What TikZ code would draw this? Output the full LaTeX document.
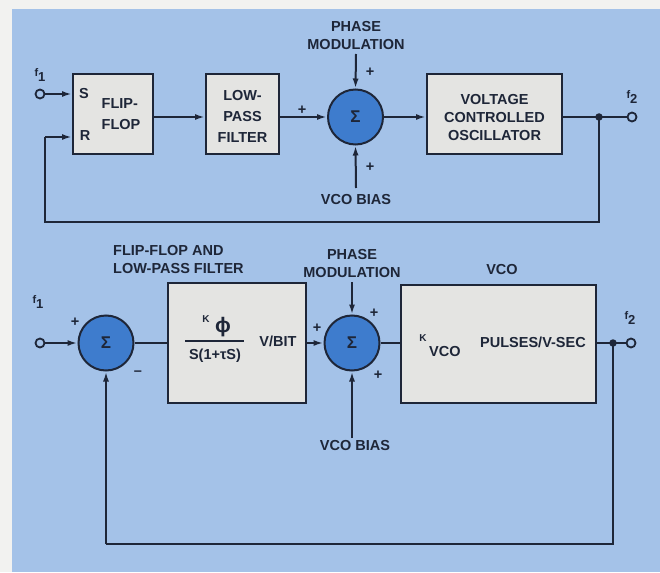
\documentclass[tikz,border=0pt]{standalone}
\usepackage{fontspec}
\setmainfont{Liberation Sans}
\usetikzlibrary{arrows.meta}
\definecolor{bg}{RGB}{164,194,232}
\definecolor{offwhite}{RGB}{242,242,240}
\definecolor{boxfill}{RGB}{228,228,226}
\definecolor{sumfill}{RGB}{62,124,205}
\definecolor{ink}{RGB}{30,38,56}
\begin{document}
\begin{tikzpicture}[x=1pt,y=-1pt,
  lbl/.style={font=\bfseries\fontsize{14.5}{18}\selectfont, text=ink, align=center, inner sep=0},
  small/.style={font=\bfseries\fontsize{11}{12}\selectfont, text=ink, inner sep=0},
  blk/.style={draw=ink, line width=2pt, fill=boxfill, inner sep=0},
  sumnode/.style={circle, draw=ink, line width=2pt, fill=sumfill, minimum size=55pt, inner sep=0, font=\bfseries\fontsize{17}{17}\selectfont, text=ink},
  term/.style={circle, draw=ink, line width=1.8pt, minimum size=9pt, inner sep=0},
  dotn/.style={circle, fill=ink, minimum size=7.5pt, inner sep=0},
  wire/.style={draw=ink, line width=2pt},
  arr/.style={wire, -{Latex[length=10pt,width=6pt]}},
]
\fill[offwhite] (0,0) rectangle (660,572);
\fill[bg] (12,9) rectangle (660,572);
\useasboundingbox (0,0) rectangle (660,572);

% ---------- top row ----------
\node[term] (in1) at (40,94) {};
\node[small] (f1a) at (40,75) {f\raisebox{-5pt}{\fontsize{13}{13}\selectfont 1}};
\node[blk, minimum width=80pt, minimum height=80pt] (ff) at (113,114) {};
\node[lbl] (ffS) at (84,94) {S};
\node[lbl] (ffR) at (85,136) {R};
\node[lbl, align=left] (fft) at (121,114) {FLIP-\\[3pt]FLOP};
\node[blk, minimum width=73pt, minimum height=80pt] (lpf) at (242.5,114) {};
\node[lbl] (lpft) at (242.5,116) {LOW-\\[3pt]PASS\\[3pt]FILTER};
\node[sumnode] (s1) at (355.5,117) {Σ};
\node[lbl] (pm1) at (356,36) {PHASE\\MODULATION};
\node[lbl] (vb1) at (356,200) {VCO BIAS};
\node[blk, minimum width=135pt, minimum height=80pt] (vco1) at (494.5,114) {};
\node[lbl] (vco1t) at (494.5,118) {VOLTAGE\\CONTROLLED\\OSCILLATOR};
\node[dotn] (j1) at (599,117) {};
\node[term] (out1) at (632,117) {};
\node[small] (f2a) at (632,97) {f\raisebox{-5pt}{\fontsize{13}{13}\selectfont 2}};
\node[lbl] (p1a) at (302,110) {+};
\node[lbl] (p1b) at (370,72) {+};
\node[lbl] (p1c) at (370,167) {+};
\coordinate (fb1a) at (599,222);
\coordinate (fb1b) at (45,222);
\coordinate (fb1c) at (45,137);

\draw[arr] (in1.east) -- (ff.west |- in1);
\draw[arr] (ff.east |- s1.west) -- (lpf.west |- s1.west);
\draw[arr] (lpf.east |- s1.west) -- (s1.west);
\draw[arr] (pm1.south |- 0,54) -- (s1.north);
\draw[arr] (vb1.north |- 0,188) -- (s1.south);
\draw[arr] (s1.east) -- (vco1.west |- s1.east);
\draw[wire] (vco1.east |- j1) -- (j1.center) -- (out1.west);
\draw[wire] (j1.center) -- (fb1a) -- (fb1b) -- (fb1c);
\draw[arr] (fb1c) -- (ff.west |- fb1c);

% ---------- bottom row ----------
\node[term] (in2) at (40,343) {};
\node[small] (f1b) at (38,302) {f\raisebox{-5pt}{\fontsize{13}{13}\selectfont 1}};
\node[sumnode] (s2) at (106,343) {Σ};
\node[lbl] (p2a) at (75,322) {+};
\node[lbl] (m2a) at (138,373) {\textendash};
\node[lbl, align=left, anchor=west] (fflpf) at (113,260) {FLIP-FLOP AND\\LOW-PASS FILTER};
\node[blk, minimum width=138pt, minimum height=120pt] (box2) at (237,343) {};
\node[small] (numk) at (206,319) {\fontsize{10}{10}\selectfont K};
\node[lbl] (num) at (223,327) {\fontsize{21}{21}\selectfont ϕ};
\draw[ink, line width=1.6pt] (185,341) -- (244,341);
\node[lbl] (den) at (215,356) {S(1+τS)};
\node[lbl] (vbit) at (278,341) {V/BIT};
\node[sumnode] (s3) at (352,343) {Σ};
\node[lbl] (pm2) at (352,264) {PHASE\\MODULATION};
\node[lbl] (vb2) at (355,446) {VCO BIAS};
\node[lbl] (p3a) at (317,328) {+};
\node[lbl] (p3b) at (374,313) {+};
\node[lbl] (p3c) at (378,375) {+};
\node[lbl] (vcol) at (502,270) {VCO};
\node[blk, minimum width=195pt, minimum height=118pt] (vco2) at (498.5,344) {};
\node[lbl] (kvco) at (440,346) {\raisebox{7pt}{\fontsize{10}{10}\selectfont K}\,\raisebox{-8pt}{VCO}};
\node[lbl] (pulses) at (533,342) {PULSES/V-SEC};
\node[dotn] (j2) at (613,343) {};
\node[term] (out2) at (631,343) {};
\node[small] (f2b) at (630,318) {f\raisebox{-5pt}{\fontsize{13}{13}\selectfont 2}};
\coordinate (fb2a) at (613,544);
\coordinate (fb2b) at (106,544);

\draw[arr] (in2.east) -- (s2.west);
\draw[wire] (s2.east) -- (box2.west |- s2);
\draw[arr] (box2.east |- s3) -- (s3.west);
\draw[arr] (s3.north |- 0,282) -- (s3.north);
\draw[arr] (s3.south |- 0,438) -- (s3.south);
\draw[wire] (s3.east) -- (vco2.west |- s3);
\draw[wire] (vco2.east |- j2) -- (j2.center) -- (out2.west);
\draw[wire] (j2.center) -- (fb2a) -- (fb2b);
\draw[arr] (fb2b) -- (s2.south);
\end{tikzpicture}
\end{document}
